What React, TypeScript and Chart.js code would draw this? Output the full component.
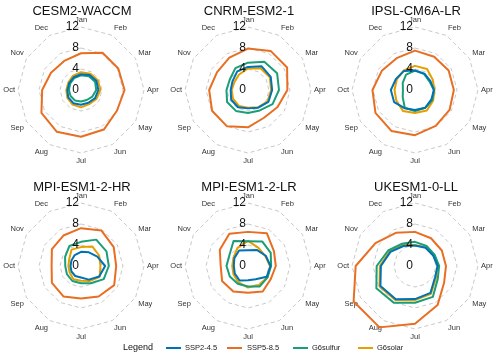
import React, { useEffect, useRef } from "react";
import { Chart, registerables } from "chart.js";

Chart.register(...registerables);

const FONT = "'Liberation Sans', Arial, Helvetica, sans-serif";

const months = ["Jan", "Feb", "Mar", "Apr", "May", "Jun", "Jul", "Aug", "Sep", "Oct", "Nov", "Dec"];
const seriesNames = ["SSP2-4.5", "SSP5-8.5", "G6sulfur", "G6solar"];
const seriesColors = ["#0072B2", "#E86E22", "#1B9E77", "#E69F00"];
const tickValues = [0, 4, 8, 12];

// CESM2-WACCM
const cesmSsp245 = [3.0, 3.3, 3.4, 3.3, 3.1, 2.8, 2.8, 2.9, 2.8, 2.6, 2.6, 2.8];
const cesmSsp585 = [7.0, 8.2, 8.2, 8.3, 7.9, 8.7, 8.9, 9.2, 8.7, 7.4, 6.6, 6.4];
const cesmG6sulfur = [2.8, 3.0, 3.1, 2.9, 2.5, 2.2, 2.2, 2.3, 2.3, 2.3, 2.4, 2.6];
const cesmG6solar = [3.4, 3.6, 3.7, 3.7, 3.4, 3.1, 3.3, 3.2, 3.0, 2.8, 2.8, 3.1];

// CNRM-ESM2-1
const cnrmSsp245 = [4.4, 5.2, 5.0, 4.6, 4.5, 3.9, 3.5, 3.8, 3.7, 3.3, 3.4, 4.1];
const cnrmSsp585 = [7.9, 8.6, 8.6, 7.5, 6.5, 6.1, 7.1, 8.0, 7.9, 7.4, 6.8, 7.1];
const cnrmG6sulfur = [5.2, 6.2, 6.4, 5.9, 5.4, 4.5, 4.4, 4.6, 4.6, 4.1, 4.0, 4.8];
const cnrmG6solar = [4.1, 4.8, 4.8, 4.4, 4.3, 3.8, 3.4, 3.5, 3.3, 3.1, 3.0, 3.4];

// IPSL-CM6A-LR
const ipslSsp245 = [3.7, 3.6, 3.4, 3.6, 3.6, 3.9, 3.8, 4.0, 4.6, 4.6, 4.2, 4.2];
const ipslSsp585 = [7.5, 7.3, 7.4, 7.4, 7.6, 7.9, 8.6, 9.0, 8.7, 8.1, 7.3, 7.0];
const ipslG6sulfur = [3.7, 3.5, 3.2, 3.6, 3.8, 3.9, 4.0, 3.9, 2.7, 2.3, 2.7, 3.4];
const ipslG6solar = [4.6, 4.6, 3.9, 3.7, 4.0, 4.5, 4.4, 4.6, 4.1, 3.9, 4.0, 4.3];

// MPI-ESM1-2-HR
const mpihrSsp245 = [2.7, 3.0, 3.6, 4.6, 4.0, 3.0, 2.2, 2.2, 2.1, 2.0, 2.1, 2.4];
const mpihrSsp585 = [7.2, 7.8, 7.2, 6.7, 7.3, 6.7, 6.2, 6.7, 6.4, 5.6, 6.4, 6.7];
const mpihrG6sulfur = [4.6, 5.8, 5.6, 5.3, 5.0, 3.8, 3.3, 3.3, 3.1, 3.0, 3.5, 4.4];
const mpihrG6solar = [3.6, 4.3, 4.0, 3.7, 4.1, 3.3, 2.8, 2.9, 2.5, 2.4, 2.6, 3.6];

// MPI-ESM1-2-LR
const mpilrSsp245 = [3.0, 3.5, 3.9, 4.3, 4.1, 2.9, 2.7, 3.2, 2.9, 2.7, 3.0, 3.4];
const mpilrSsp585 = [6.5, 7.2, 5.7, 5.3, 5.0, 5.6, 5.1, 5.6, 5.7, 5.2, 6.2, 7.1];
const mpilrG6sulfur = [4.7, 5.4, 5.0, 4.4, 4.3, 4.5, 3.9, 3.9, 4.0, 4.1, 4.1, 5.5];
const mpilrG6solar = [4.8, 4.0, 3.8, 4.2, 4.3, 4.2, 4.1, 3.6, 3.2, 3.0, 3.2, 4.0];

// UKESM1-0-LL
const ukesmSsp245 = [3.9, 4.0, 4.0, 4.3, 4.4, 5.9, 6.3, 7.3, 7.6, 6.5, 5.4, 4.4];
const ukesmSsp585 = [6.5, 6.1, 5.9, 5.9, 6.4, 8.6, 11.0, 13.5, 13.5, 11.3, 8.7, 7.3];
const ukesmG6sulfur = [4.6, 4.4, 4.3, 4.6, 5.0, 6.8, 7.0, 8.1, 8.5, 7.3, 5.9, 4.9];
const ukesmG6solar = [4.0, 4.1, 4.1, 4.3, 4.6, 6.1, 6.5, 7.5, 7.8, 6.7, 5.6, 4.6];

const models = [
  { name: "CESM2-WACCM", series: [cesmSsp245, cesmSsp585, cesmG6sulfur, cesmG6solar] },
  { name: "CNRM-ESM2-1", series: [cnrmSsp245, cnrmSsp585, cnrmG6sulfur, cnrmG6solar] },
  { name: "IPSL-CM6A-LR", series: [ipslSsp245, ipslSsp585, ipslG6sulfur, ipslG6solar] },
  { name: "MPI-ESM1-2-HR", series: [mpihrSsp245, mpihrSsp585, mpihrG6sulfur, mpihrG6solar] },
  { name: "MPI-ESM1-2-LR", series: [mpilrSsp245, mpilrSsp585, mpilrG6sulfur, mpilrG6solar] },
  { name: "UKESM1-0-LL", series: [ukesmSsp245, ukesmSsp585, ukesmG6sulfur, ukesmG6solar] },
];

const tickLabelPlugin = {
  id: "tickLabelsLeft",
  afterDatasetsDraw(chart: any) {
    const s = chart.scales.r;
    const ctx = chart.ctx;
    ctx.save();
    ctx.font = `12px ${FONT}`;
    ctx.fillStyle = "#111";
    ctx.textAlign = "right";
    ctx.textBaseline = "middle";
    tickValues.forEach((v) => {
      const d = s.getDistanceFromCenterForValue(v);
      ctx.fillText(String(v), s.xCenter - 2, s.yCenter - d);
    });
    ctx.restore();
  },
};

const CW = 166;
const CH = 175;

function RadarPanel({ name, series, left, top }: { name: string; series: number[][]; left: number; top: number }) {
  const ref = useRef<HTMLCanvasElement>(null);
  useEffect(() => {
    const chart = new Chart(ref.current as HTMLCanvasElement, {
      type: "radar",
      data: {
        labels: months,
        datasets: series.map((d, i) => ({
          label: seriesNames[i],
          data: d,
          borderColor: seriesColors[i],
          backgroundColor: "transparent",
          fill: false,
          borderWidth: 2,
          borderJoinStyle: "round" as const,
          pointRadius: 0,
          pointHoverRadius: 0,
          clip: false as any,
        })),
      },
      options: {
        responsive: false,
        animation: false,
        layout: { padding: { top: 12, bottom: 12, left: 0, right: 0 } },
        plugins: {
          legend: { display: false },
          tooltip: { enabled: false },
          title: { display: false },
        },
        scales: {
          r: {
            min: 0,
            max: 12,
            ticks: { stepSize: 4, display: false },
            grid: { color: "#c8c8c8", lineWidth: 1 },
            border: { dash: [4, 3] },
            angleLines: { display: false },
            pointLabels: {
              font: { size: 7.5, family: FONT },
              color: "#333",
              padding: 3,
            },
          },
        },
      } as any,
      plugins: [tickLabelPlugin],
    });
    return () => chart.destroy();
  }, [series]);
  return (
    <>
      <canvas
        ref={ref}
        width={CW}
        height={CH}
        style={{ position: "absolute", left, top, width: CW, height: CH }}
      />
      <div
        style={{
          position: "absolute",
          left,
          top: top - 0.4,
          width: CW,
          textAlign: "center",
          font: `13px/15px ${FONT}`,
          color: "#111",
          pointerEvents: "none",
        }}
      >
        {name}
      </div>
    </>
  );
}

const legendItems = [
  { swatch: 166, text: 185 },
  { swatch: 227, text: 247 },
  { swatch: 293, text: 312 },
  { swatch: 358, text: 377 },
];

export default function App() {
  const colLefts = [-1, 166, 333];
  const rowTops = [3, 179];
  return (
    <div style={{ position: "absolute", left: 0, top: 0, width: 500, height: 357, background: "#fff", overflow: "hidden" }}>
      {models.map((m, i) => (
        <RadarPanel
          key={m.name}
          name={m.name}
          series={m.series}
          left={colLefts[i % 3]}
          top={rowTops[Math.floor(i / 3)]}
        />
      ))}
      <div style={{ position: "absolute", left: 123, top: 342, font: `9px/11px ${FONT}`, color: "#111" }}>Legend</div>
      {seriesNames.map((n, i) => (
        <React.Fragment key={n}>
          <div
            style={{
              position: "absolute",
              left: legendItems[i].swatch,
              top: 347,
              width: 15,
              height: 2,
              background: seriesColors[i],
            }}
          />
          <div
            style={{
              position: "absolute",
              left: legendItems[i].text,
              top: 343,
              font: `7.5px/10px ${FONT}`,
              color: "#222",
              whiteSpace: "nowrap",
            }}
          >
            {n}
          </div>
        </React.Fragment>
      ))}
    </div>
  );
}
